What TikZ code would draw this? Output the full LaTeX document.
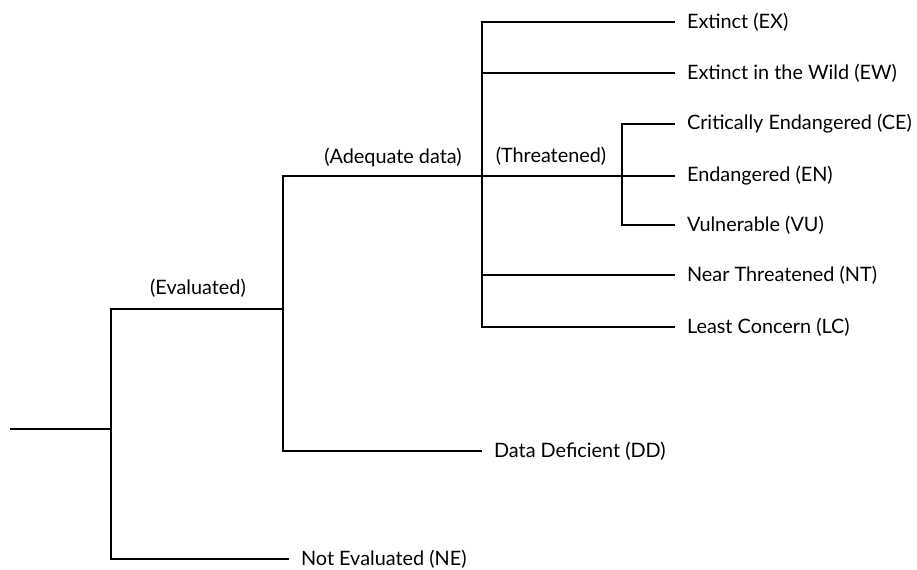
\documentclass[tikz,border=0pt]{standalone}
\usepackage{fontspec}
\setmainfont{Lato}

\begin{document}
\begin{tikzpicture}[x=0.02cm,y=-0.02cm,line width=1.2pt,
  leaf/.style={anchor=west,inner xsep=0.22cm,inner ysep=0pt,font=\fontsize{11.3}{13}\selectfont},
  branchlbl/.style={inner sep=0pt,font=\fontsize{11.3}{13}\selectfont}]
\useasboundingbox (0,0) rectangle (917,569);
% junctions
\coordinate (r0) at (10,429);
\coordinate (n1) at (111,429);
\coordinate (n2) at (283,309);
\coordinate (n3) at (482,176);
\coordinate (n4) at (622,176);
% leaves
\node[leaf] (ne) at (289,559) {Not Evaluated (NE)};
\node[leaf] (dd) at (482,451) {Data Deficient (DD)};
\node[leaf] (ex) at (675,22) {Extinct (EX)};
\node[leaf] (ew) at (675,73) {Extinct in the Wild (EW)};
\node[leaf] (ce) at (675,124) {Critically Endangered (CE)};
\node[leaf] (en) at (675,176) {Endangered (EN)};
\node[leaf] (vu) at (675,225) {Vulnerable (VU)};
\node[leaf] (nt) at (675,275) {Near Threatened (NT)};
\node[leaf] (lc) at (675,327) {Least Concern (LC)};
% branch labels
\node[branchlbl] (evlbl) at (198,288) {(Evaluated)};
\node[branchlbl] (adlbl) at (393,157) {(Adequate data)};
\node[branchlbl] (thlbl) at (551,156) {(Threatened)};
% tree
\draw (r0) -- (n1);
\draw (n2) -| (n1) |- (ne.west);
\draw (n3) -| (n2) |- (dd.west);
\draw (ex.west) -| (n3) |- (lc.west);
\draw (n3 |- ew.west) -- (ew.west);
\draw (n3 |- nt.west) -- (nt.west);
\draw (n3) -- (en.west);
\draw (ce.west) -| (n4) |- (vu.west);
\end{tikzpicture}
\end{document}
